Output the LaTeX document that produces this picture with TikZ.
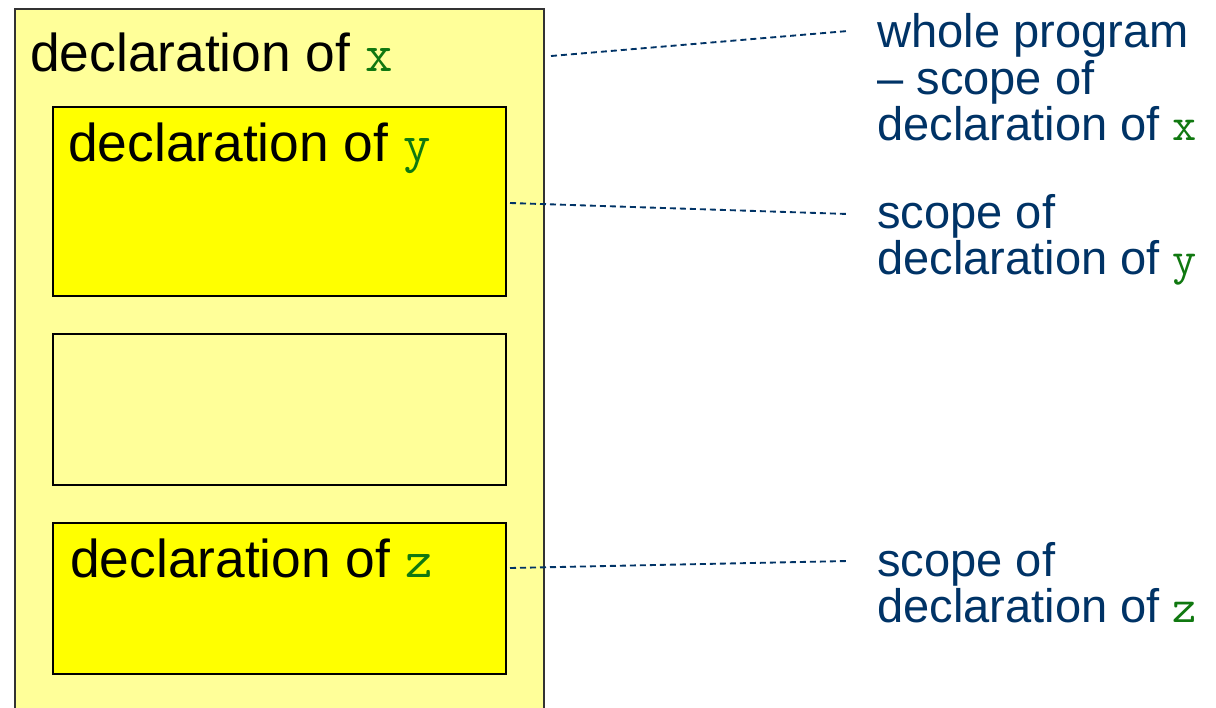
\documentclass[tikz,border=0pt]{standalone}
\usepackage{fontspec}
\setmainfont{Liberation Sans}
\definecolor{paleyellow}{HTML}{FFFF99}
\definecolor{brightyellow}{HTML}{FFFF00}
\definecolor{labelblue}{HTML}{003366}
\definecolor{codegreen}{HTML}{107810}
\newcommand{\cv}[1]{{\ttfamily\color{codegreen}#1}}
\begin{document}
\begin{tikzpicture}[x=0.75pt,y=-0.75pt,
  outerbox/.style={draw=black!80,line width=1.2pt,fill=paleyellow},
  innerbox/.style={draw=black,line width=1.3pt},
  boxtext/.style={anchor=base west,inner sep=0pt,font=\fontsize{40}{48}\selectfont},
  labeltext/.style={anchor=base west,inner sep=0pt,text=labelblue,font=\fontsize{35.3}{35.3}\selectfont},
  leader/.style={draw=labelblue,line width=1.4pt,dash pattern=on 4.5pt off 3pt}]
\clip (0,0) rectangle (1216,707);
\fill[white] (0,0) rectangle (1216,707);
% boxes
\node[outerbox,inner sep=0pt,anchor=north west,minimum width=529*0.75pt,minimum height=730*0.75pt] (outer) at (14,8) {};
\node[innerbox,fill=brightyellow,inner sep=0pt,anchor=north west,minimum width=453*0.75pt,minimum height=189*0.75pt] (ybox) at (52,106) {};
\node[innerbox,fill=paleyellow,inner sep=0pt,anchor=north west,minimum width=453*0.75pt,minimum height=151*0.75pt] (mbox) at (52,333) {};
\node[innerbox,fill=brightyellow,inner sep=0pt,anchor=north west,minimum width=453*0.75pt,minimum height=151*0.75pt] (zbox) at (52,522) {};
% box texts
\node[boxtext] (tx) at (30,71) {declaration of \cv{x}};
\node[boxtext] (ty) at (68,161) {declaration of \cv{y}};
\node[boxtext] (tz) at (70,577) {declaration of \cv{z}};
% labels
\node[labeltext] (lx1) at (877,47) {whole program};
\node[labeltext] (lx2) at (877,94) {– scope of};
\node[labeltext] (lx3) at (877,140) {declaration of \cv{x}};
\node[labeltext] (ly1) at (877,228) {scope of};
\node[labeltext] (ly2) at (877,274) {declaration of \cv{y}};
\node[labeltext] (lz1) at (877,576) {scope of};
\node[labeltext] (lz2) at (877,622) {declaration of \cv{z}};
% connector ends
\coordinate (xs) at (551,56);
\coordinate (xe) at (848,31);
\coordinate (ys) at (510,203);
\coordinate (ye) at (848,214);
\coordinate (zs) at (510,568);
\coordinate (ze) at (848,561);
\draw[leader] (xs) -- (xe);
\draw[leader] (ys) -- (ye);
\draw[leader] (zs) -- (ze);
\end{tikzpicture}
\end{document}
